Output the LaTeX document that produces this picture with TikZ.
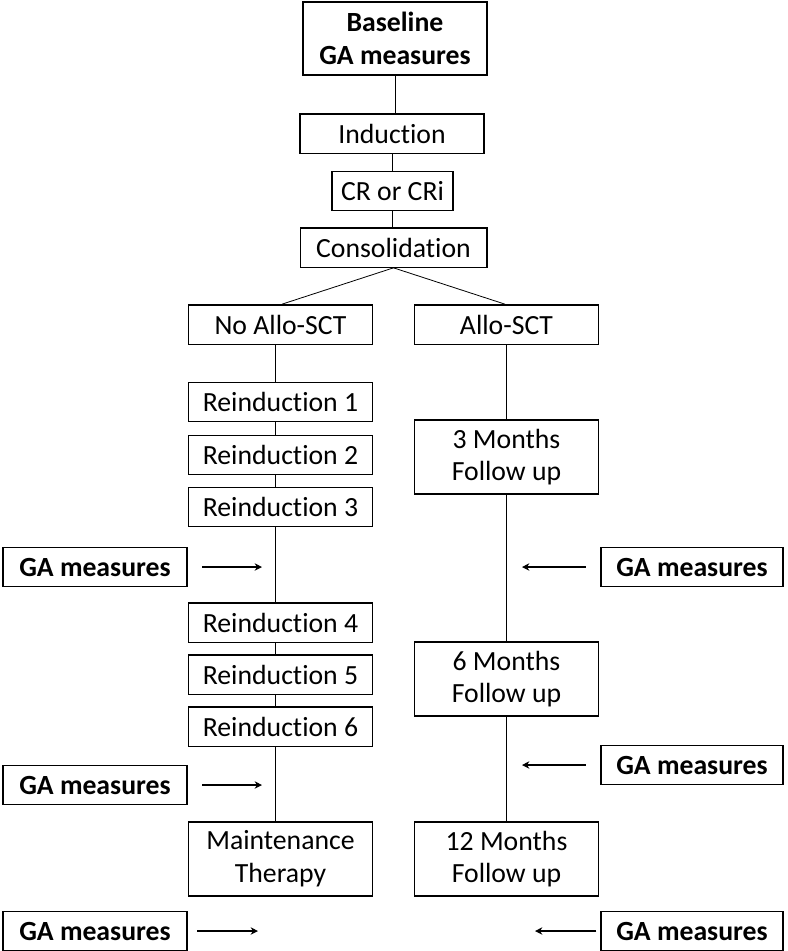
\documentclass[tikz,border=0pt]{standalone}
\usepackage{fontspec}
\setmainfont{Carlito}[Ligatures=NoCommon]
\usetikzlibrary{arrows.meta,calc}

\tikzset{every picture/.style={line width=0.75pt}}
\tikzset{
  stagebox/.style={draw, line width=1pt, inner sep=0.75pt, align=center, minimum width=138pt, minimum height=29.5pt, font=\fontsize{20.8}{24.5}\selectfont},
  tallbox/.style={stagebox, minimum height=55.5pt},
  gabox/.style={stagebox, font=\fontsize{20.8}{24.5}\selectfont\bfseries},
  link/.style={line width=0.6pt},
  gaarrow/.style={line width=1.7pt, -{Stealth[length=5.5pt,width=5.5pt]}, shorten <=11pt}
}

\begin{document}
\begin{tikzpicture}[x=0.75pt,y=0.75pt,yscale=-1,xscale=1]
    \useasboundingbox (0,0) rectangle (788,951);
    % Text Node
    \node (base) at (395,38.5) [gabox, minimum height=54.75pt] {Baseline\\GA measures};
    % Text Node
    \node (ind) at (392,133.5) [stagebox] {Induction};
    % Text Node
    \node (cr) at (392.5,191) [stagebox, minimum width=90.75pt] {CR or CRi};
    % Text Node
    \node (cons) at (393.5,247.5) [stagebox, minimum width=140pt] {Consolidation};
    % Text Node
    \node (noallo) at (280.5,324.5) [stagebox] {No Allo-SCT};
    % Text Node
    \node (allo) at (506.5,324.5) [stagebox] {Allo-SCT};
    % Text Node
    \node (rone) at (280.5,402) [stagebox] {Reinduction 1};
    \node (rtwo) at (280.5,455) [stagebox] {Reinduction 2};
    \node (rthree) at (280.5,507) [stagebox] {Reinduction 3};
    \node (rfour) at (280.5,622.5) [stagebox] {Reinduction 4};
    \node (rfive) at (280.5,674.5) [stagebox] {Reinduction 5};
    \node (rsix) at (280.5,726.5) [stagebox] {Reinduction 6};
    \node (maint) at (280.5,859) [tallbox] {Maintenance\\Therapy};
    % Text Node
    \node (mthree) at (506.5,457) [tallbox] {3 Months\\Follow up};
    \node (msix) at (506.5,679) [tallbox] {6 Months\\Follow up};
    \node (mtwelve) at (506.5,859) [tallbox] {12 Months\\Follow up};
    % GA measures nodes
    \node (gaLone) at (95,567) [gabox] {GA measures};
    \node (gaRone) at (692,567) [gabox, minimum width=136.5pt] {GA measures};
    \node (gaRtwo) at (692,765) [gabox, minimum width=136.5pt] {GA measures};
    \node (gaLtwo) at (95,785) [gabox] {GA measures};
    \node (gaLthree) at (95,931) [gabox] {GA measures};
    \node (gaRthree) at (692,931) [gabox, minimum width=136.5pt] {GA measures};
    % arrow tips
    \coordinate (tipLone) at (262,567);
    \coordinate (tipRone) at (522,567);
    \coordinate (tipRtwo) at (522,765);
    \coordinate (tipLtwo) at (262,785);
    \coordinate (tipLthree) at (258,931);
    \coordinate (tipRthree) at (535,931);

    %Straight Lines
    \draw [link] (base) -- (base |- ind.north);
    \draw [link] (ind) -- (ind |- cr.north);
    \draw [link] (cr) -- (cr |- cons.north);
    %Straight Lines
    \draw [link] (cons.south) -- ($(noallo.north)+(1.5,0)$);
    \draw [link] (cons.south) -- ($(allo.north)+(-1.5,0)$);
    %Straight Lines
    \draw [link] ($(noallo.south)+(-5,0)$) -- ($(rone.north)+(-5,0)$);
    \draw [link] ($(rone.south)+(-5,0)$) -- ($(rtwo.north)+(-5,0)$);
    \draw [link] ($(rtwo.south)+(-5,0)$) -- ($(rthree.north)+(-5,0)$);
    \draw [link] ($(rthree.south)+(-5,0)$) -- ($(rfour.north)+(-5,0)$);
    \draw [link] ($(rfour.south)+(-5,0)$) -- ($(rfive.north)+(-5,0)$);
    \draw [link] ($(rfive.south)+(-5,0)$) -- ($(rsix.north)+(-5,0)$);
    \draw [link] ($(rsix.south)+(-5,0)$) -- ($(maint.north)+(-5,0)$);
    %Straight Lines
    \draw [link] (allo) -- (mthree);
    \draw [link] (mthree) -- (msix);
    \draw [link] (msix) -- (mtwelve);
    %Arrows
    \draw [gaarrow] (gaLone.east) -- (tipLone);
    \draw [gaarrow] (gaRone.west) -- (tipRone);
    \draw [gaarrow] (gaRtwo.west) -- (tipRtwo);
    \draw [gaarrow] (gaLtwo.east) -- (tipLtwo);
    \draw [gaarrow, shorten <=7pt] (gaLthree.east) -- (tipLthree);
    \draw [gaarrow, shorten <=3pt] (gaRthree.west) -- (tipRthree);
\end{tikzpicture}
\end{document}
